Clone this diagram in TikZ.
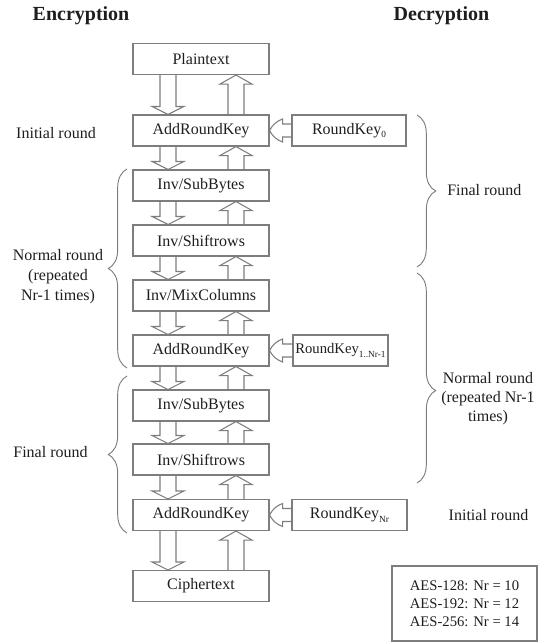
\documentclass[tikz,border=0pt]{standalone}
\usepackage{fontspec}
\setmainfont{Liberation Serif}
\usetikzlibrary{calc,decorations.pathreplacing}
\definecolor{linegray}{RGB}{125,125,125}
\definecolor{textgray}{RGB}{30,30,30}
\newcommand{\keysub}[1]{\raisebox{-2.5pt}{\fontsize{7}{8}\selectfont #1}}

\begin{document}
\begin{tikzpicture}[x=0.75pt,y=-0.75pt]
            \tikzstyle{every node}+=[inner sep=0pt,text=textgray,font=\fontsize{12}{15}\selectfont]
            \tikzstyle{box}=[draw=linegray,line width=0.8pt,minimum width=102pt,minimum height=23.25pt]
            \tikzstyle{blk}=[draw=linegray,line width=0.8pt,line join=miter]
            \tikzstyle{brc}=[draw=linegray,line width=0.7pt,decorate,decoration={brace,amplitude=14pt}]
            \useasboundingbox (0,0) rectangle (541,643);
            \node[font=\fontsize{15}{18}\selectfont\bfseries] (enc) at (81,16) {Encryption};
            \node[font=\fontsize{15}{18}\selectfont\bfseries] (dec) at (441.5,16) {Decryption};
            \node[box] (pt) at (201,59) {Plaintext};
            \node[box] (ark0) at (201,130.5) {AddRoundKey};
            \node[box] (sb1) at (201,185.5) {Inv/SubBytes};
            \node[box] (sr1) at (201,240.5) {Inv/Shiftrows};
            \node[box] (mc) at (201,295.5) {Inv/MixColumns};
            \node[box] (ark1) at (201,350.5) {AddRoundKey};
            \node[box] (sb2) at (201,405.5) {Inv/SubBytes};
            \node[box] (sr2) at (201,459.5) {Inv/Shiftrows};
            \node[box] (ark2) at (201,515) {AddRoundKey};
            \node[box] (ct) at (201,586) {Ciphertext};
            \node[box,minimum width=85.5pt] (rk0) at (349,130.5) {RoundKey\keysub{0}};
            \node[box,minimum width=71.25pt,font=\fontsize{11}{13}\selectfont] (rk1) at (340.5,350.5) {RoundKey\keysub{1..Nr-1}};
            \node[box,minimum width=86.25pt] (rk2) at (349.5,515) {RoundKey\keysub{Nr}};
            \foreach \src/\dst in {pt/ark0,ark0/sb1,sb1/sr1,sr1/mc,mc/ark1,ark1/sb2,sb2/sr2,sr2/ark2,ark2/ct}{
                \draw[blk] ($(\src.south)+(-41,0)$) -- ($(\dst.north)+(-41,-8)$) -- ++(-8,0) -- ++(16,8) -- ++(16,-8) -- ++(-8,0) -- ($(\src.south)+(-25,0)$);
                \draw[blk] ($(\dst.north)+(27,0)$) -- ($(\src.south)+(27,9)$) -- ++(-8,0) -- ++(16,-9) -- ++(16,9) -- ++(-8,0) -- ($(\dst.north)+(43,0)$);
            }
            \foreach \key/\dst in {rk0/ark0,rk1/ark1,rk2/ark2}
                \draw[blk] ($(\key.west)+(0,-6.5)$) -- ($(\dst.east)+(13,-6.5)$) -- ++(0,-5) to[bend right=20] (\dst.east) to[bend right=20] ($(\dst.east)+(13,11.5)$) -- ++(0,-5) -- ($(\key.west)+(0,6.5)$);
            \node (initl) at (56,133) {Initial round};
            \node[align=center] (norml) at (58,277) {Normal round\\(repeated\\Nr-1 times)};
            \node (finl) at (50.5,452) {Final round};
            \node[anchor=west] (finr) at (447,190) {Final round};
            \node[align=center,font=\fontsize{12}{14.25}\selectfont] (normr) at (488,399) {Normal round\\(repeated Nr-1\\times)};
            \node (initr) at (488.5,515) {Initial round};
            \node[draw=linegray,line width=0.8pt,minimum width=108.75pt,minimum height=56.25pt,align=left,font=\fontsize{11}{13.5}\selectfont] (aes) at (464.5,603.5) {AES-128: Nr = 10\\AES-192: Nr = 12\\AES-256: Nr = 14};
            \draw[brc] (127,368) -- (127,169);
            \draw[brc] (127,533) -- (127,376);
            \draw[brc] (417,115) -- (417,267);
            \draw[brc,decoration={aspect=0.56}] (417,273) -- (417,483);
        \end{tikzpicture}
\end{document}
